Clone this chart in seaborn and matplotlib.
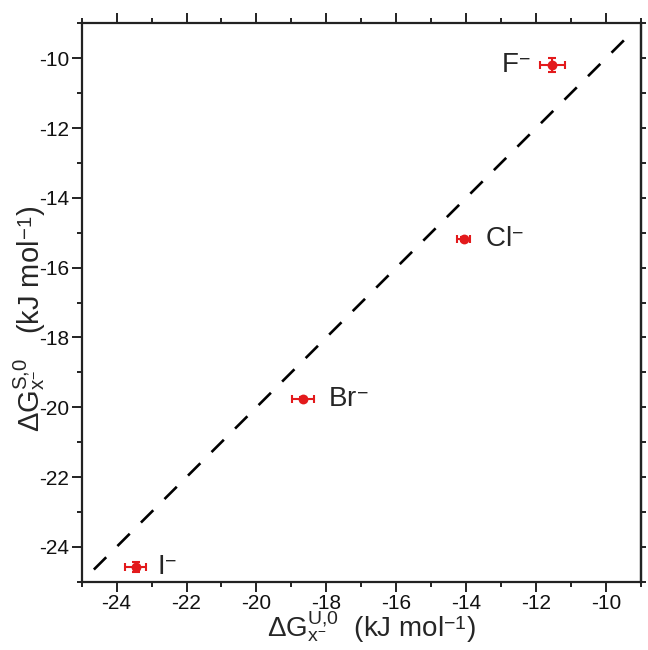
import matplotlib
matplotlib.use("Agg")
import matplotlib.pyplot as plt
import matplotlib._mathtext as _mt
import seaborn as sns
import numpy as np
import pandas as pd
from matplotlib.ticker import MultipleLocator

ions = ["F", "Cl", "Br", "I"]
dg_u = [-11.53, -14.07, -18.67, -23.45]
dg_s = [-10.18, -15.17, -19.75, -24.57]
err_u = [0.35, 0.19, 0.31, 0.30]
err_s = [0.20, 0.06, 0.03, 0.15]
line_range = [-24.65, -9.35]

# tighter sub/superscripts like the reference
_mt.FontConstantsBase.sup1 = 0.45
_mt.FontConstantsBase.sub1 = 0.2
_mt.FontConstantsBase.sub2 = 0.3

sns.set_theme(style="white")
plt.rcParams["font.family"] = ["Liberation Sans", "DejaVu Sans"]
plt.rcParams["mathtext.fontset"] = "custom"
plt.rcParams["mathtext.rm"] = "Liberation Sans"
plt.rcParams["mathtext.it"] = "Liberation Sans"
plt.rcParams["mathtext.default"] = "regular"
plt.rcParams["axes.unicode_minus"] = False

df = pd.DataFrame({"ion": ions, "u": dg_u, "s": dg_s, "eu": err_u, "es": err_s})

fig = plt.figure(figsize=(6.48, 6.5), dpi=100)
ax = fig.add_axes([0.126, 0.105, 0.863, 0.859])

red = "#e31a1c"
line_df = pd.DataFrame({"x": line_range, "y": line_range})
sns.lineplot(data=line_df, x="x", y="y", ax=ax, color="black", lw=1.9,
             linestyle=(0, (6.6, 6.0)))
ax.errorbar(df["u"], df["s"], xerr=df["eu"], yerr=df["es"], fmt="none",
            ecolor=red, elinewidth=1.5, capsize=3, capthick=1.5, zorder=3)
sns.scatterplot(data=df, x="u", y="s", ax=ax, color=red, s=50,
                edgecolor=red, linewidth=0, zorder=4)

fs = 20
off = 0.62
ax.text(dg_u[0] - off, dg_s[0], r"F$^{-}$", ha="right", va="center", fontsize=fs)
ax.text(dg_u[1] + off, dg_s[1], r"Cl$^{-}$", ha="left", va="center", fontsize=fs)
ax.text(dg_u[2] + off + 0.1, dg_s[2], r"Br$^{-}$", ha="left", va="center", fontsize=fs)
ax.text(dg_u[3] + off, dg_s[3], r"I$^{-}$", ha="left", va="center", fontsize=fs)

ax.set_xlim(-25, -9)
ax.set_ylim(-25, -9)
ax.xaxis.set_major_locator(MultipleLocator(2))
ax.xaxis.set_minor_locator(MultipleLocator(1))
ax.yaxis.set_major_locator(MultipleLocator(2))
ax.yaxis.set_minor_locator(MultipleLocator(1))

ax.set_xlabel(r"$\Delta G^{U{,}0}_{x^{-}}$  (kJ mol$^{-1}$)", fontsize=20)
ax.set_ylabel(r"$\Delta G^{S{,}0}_{x^{-}}$   (kJ mol$^{-1}$)", fontsize=21)
ax.xaxis.set_label_coords(0.518, -0.05)
ax.yaxis.set_label_coords(-0.061, 0.47)

for sp in ax.spines.values():
    sp.set_linewidth(1.6)
    sp.set_color("#222222")
    sp.set_capstyle("projecting")
    sp.set_visible(True)

ax.tick_params(which="major", direction="out", length=7, width=1.4, color="#222222",
               labelsize=15, labelcolor="#111111", bottom=True, left=True, top=True,
               right=False, labeltop=False, pad=2)
ax.tick_params(which="minor", direction="out", length=3.5, width=1.4, color="#222222",
               bottom=True, left=True, top=True, right=False)

sec = ax.secondary_yaxis("right")
sec.yaxis.set_major_locator(MultipleLocator(1))
sec.tick_params(direction="out", length=3.5, width=1.4, color="#222222", labelright=False)
sec.spines["right"].set_linewidth(1.6)
sec.spines["right"].set_color("#222222")

fig.savefig("out.png", dpi=100)
